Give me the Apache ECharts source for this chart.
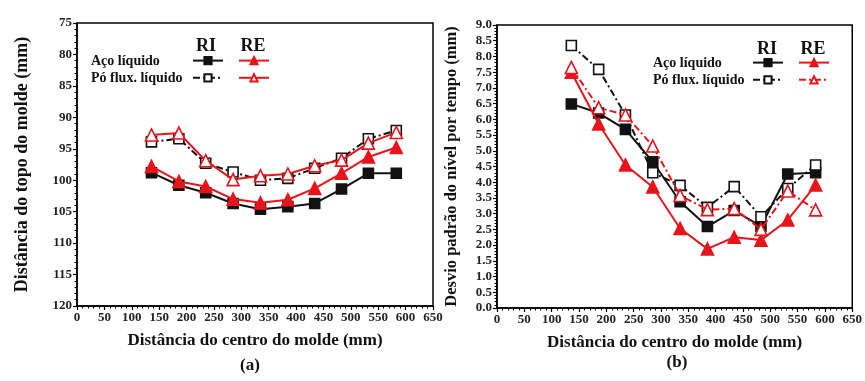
<!DOCTYPE html>
<html>
<head>
<meta charset="utf-8">
<script src="https://cdn.jsdelivr.net/npm/echarts@6/dist/echarts.min.js"></script>
<style>
  html, body { margin: 0; padding: 0; background: #fff; }
  #chart { width: 865px; height: 381px; }
</style>
</head>
<body>
<div id="chart"></div>
<script>
// Distance from mould centre (mm), shared by both panels
const distances = [136, 186, 235, 285, 335, 385, 434, 483, 532, 583];

// (a) Distance from mould top (mm)
const aRiAco = [98.8, 100.8, 102.0, 103.7, 104.6, 104.2, 103.7, 101.4, 98.9, 98.9];
const aReAco = [97.8, 100.2, 101.0, 103.0, 103.6, 103.1, 101.3, 98.9, 96.3, 94.8];
const aRiPo  = [93.9, 93.4, 97.3, 98.7, 100.0, 99.7, 98.1, 96.5, 93.4, 92.1];
const aRePo  = [92.8, 92.5, 96.9, 99.9, 99.3, 99.0, 97.7, 96.8, 94.1, 92.4];

// (b) Standard deviation of level over time (mm)
const bRiAco = [6.49, 6.2, 5.68, 4.65, 3.38, 2.59, 3.1, 2.6, 4.26, 4.3];
const bReAco = [7.5, 5.85, 4.55, 3.85, 2.53, 1.88, 2.25, 2.16, 2.8, 3.91];
const bRiPo  = [8.35, 7.59, 6.14, 4.3, 3.9, 3.2, 3.86, 2.9, 3.8, 4.55];
const bRePo  = [7.65, 6.37, 6.14, 5.15, 3.58, 3.13, 3.16, 2.5, 3.72, 3.12];

const xTicks = { min: 0, max: 650, interval: 50 };
const aTicks = { min: 75, max: 120, interval: 5 };
const bTicks = { min: 0, max: 9, interval: 0.5 };

const rowLabels = ['Aço líquido', 'Pó flux. líquido'];
const colLabels = ['RI', 'RE'];
const xTitle = 'Distância do centro do molde (mm)';
const aTitle = 'Distância do topo do molde (mm)';
const bTitle = 'Desvio padrão do nível por tempo (mm)';

const FONT = '"Liberation Serif", "DejaVu Serif", serif';
const RED = '#e8141c';
const BLACK = '#111';

const pairs = ys => ys.map((y, i) => [distances[i], y]);

const tickLabelStyle = { fontFamily: FONT, fontWeight: 'bold', fontSize: 13, color: '#222', margin: 5 };

function xAxisFor(gridIndex) {
  return {
    type: 'value', gridIndex, ...xTicks,
    name: xTitle, nameLocation: 'middle', nameGap: 26,
    nameTextStyle: { fontFamily: FONT, fontWeight: 'bold', fontSize: 17, color: '#111' },
    axisLine: { show: true, lineStyle: { color: '#000', width: 1.5 } },
    axisTick: { show: true, length: 4, lineStyle: { color: '#000', width: 1.2 } },
    minorTick: { show: true, splitNumber: 5, length: 2.5, lineStyle: { color: '#000', width: 1 } },
    splitLine: { show: false },
    axisLabel: Object.assign({}, tickLabelStyle)
  };
}

function yAxisFor(gridIndex, ticks, title, gap, size, extra) {
  return Object.assign({
    type: 'value', gridIndex, ...ticks,
    name: title, nameLocation: 'middle', nameGap: gap, nameRotate: 90,
    nameTextStyle: { fontFamily: FONT, fontWeight: 'bold', fontSize: size, color: '#111' },
    axisLine: { show: true, lineStyle: { color: '#000', width: 1.5 } },
    axisTick: { show: true, length: 4, lineStyle: { color: '#000', width: 1.2 } },
    minorTick: { show: true, splitNumber: 5, length: 2.5, lineStyle: { color: '#000', width: 1 } },
    splitLine: { show: false },
    axisLabel: Object.assign({}, tickLabelStyle)
  }, extra || {});
}

function lineSeries(name, idx, data, color, symbol, filled, dash) {
  return {
    name, type: 'line', xAxisIndex: idx, yAxisIndex: idx,
    data: pairs(data),
    symbol, symbolSize: symbol === 'triangle' ? 12 : 10,
    showSymbol: true,
    lineStyle: { color, width: 2, type: dash || 'solid' },
    itemStyle: { color: filled ? color : '#fff', borderColor: color, borderWidth: 1.6 },
    z: color === RED ? 3 : 2,
    animation: false
  };
}

function legendFor(names, left, top) {
  return {
    data: names, orient: 'vertical', left, top,
    itemWidth: 30, itemHeight: 9, itemGap: 8,
    formatter: () => '', selectedMode: false,
    textStyle: { fontSize: 1 }, padding: 0
  };
}

function label(text, x, y, size, align) {
  return {
    type: 'text', x, y,
    style: { text, fontFamily: FONT, fontWeight: 'bold', fontSize: size, fill: '#111',
             align: align || 'left', verticalAlign: 'middle' }
  };
}

const dashDot = [7, 3, 2, 3];

const option = {
  animation: false,
  grid: [
    { left: 77, top: 23, right: 432, bottom: 75, show: true, borderColor: '#000', borderWidth: 1.5 },
    { left: 497, top: 25, right: 12, bottom: 73, show: true, borderColor: '#000', borderWidth: 1.5 }
  ],
  xAxis: [xAxisFor(0), xAxisFor(1)],
  yAxis: [
    yAxisFor(0, aTicks, aTitle, 46, 18, { inverse: true }),
    yAxisFor(1, bTicks, bTitle, 37, 16.5, {
      axisLabel: Object.assign({}, tickLabelStyle, { formatter: v => v.toFixed(1) })
    })
  ],
  legend: [
    legendFor(['a RI Aço', 'a RI Pó'], 192, 56),
    legendFor(['a RE Aço', 'a RE Pó'], 238, 56),
    legendFor(['b RI Aço', 'b RI Pó'], 752, 58),
    legendFor(['b RE Aço', 'b RE Pó'], 798, 58)
  ],
  series: [
    lineSeries('a RI Aço', 0, aRiAco, BLACK, 'rect', true),
    lineSeries('a RI Pó', 0, aRiPo, BLACK, 'rect', false, dashDot),
    lineSeries('a RE Aço', 0, aReAco, RED, 'triangle', true),
    lineSeries('a RE Pó', 0, aRePo, RED, 'triangle', false),
    lineSeries('b RI Aço', 1, bRiAco, BLACK, 'rect', true),
    lineSeries('b RI Pó', 1, bRiPo, BLACK, 'rect', false, dashDot),
    lineSeries('b RE Aço', 1, bReAco, RED, 'triangle', true),
    lineSeries('b RE Pó', 1, bRePo, RED, 'triangle', false, dashDot)
  ],
  graphic: [
    label(colLabels[0], 206, 46, 18, 'center'),
    label(colLabels[1], 253, 46, 18, 'center'),
    label(rowLabels[0], 91, 61, 14),
    label(rowLabels[1], 91, 78, 14),
    label(colLabels[0], 767, 49, 18, 'center'),
    label(colLabels[1], 813, 49, 18, 'center'),
    label(rowLabels[0], 653, 63, 14),
    label(rowLabels[1], 653, 80, 14),
    label('(a)', 250, 366, 17, 'center'),
    label('(b)', 677, 363, 17, 'center')
  ]
};

const chart = echarts.init(document.getElementById('chart'), null, { renderer: 'canvas' });
chart.setOption(option);
</script>
</body>
</html>
